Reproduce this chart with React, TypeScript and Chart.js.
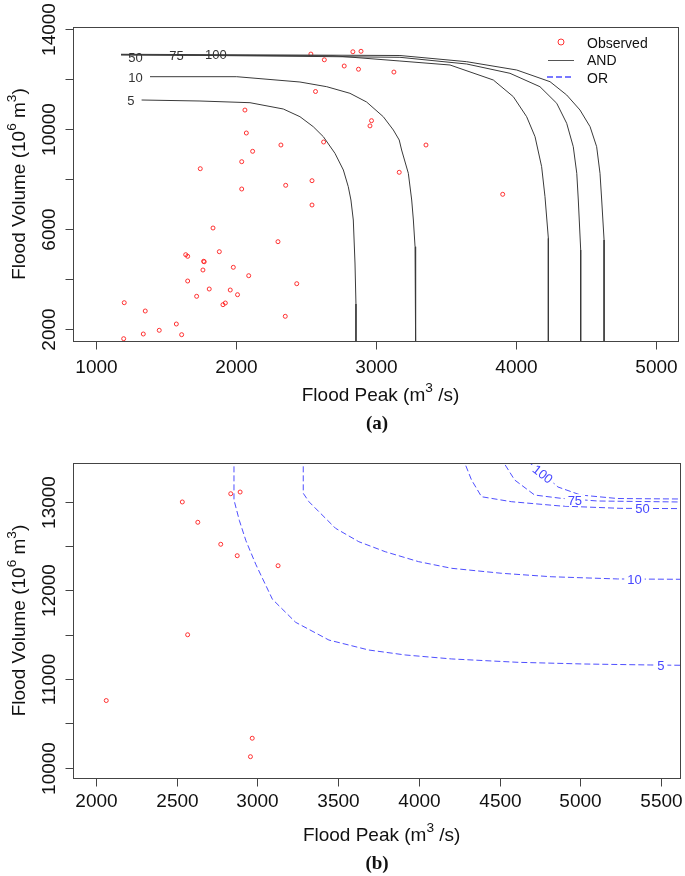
import { useEffect, useRef } from 'react';
import { Chart, registerables } from 'chart.js';
Chart.register(...registerables);

const SANS = '"Liberation Sans", Arial, Helvetica, sans-serif';
const SERIF = '"Liberation Serif", "Times New Roman", serif';

// Observed flood events: peak (m3/s) and volume (10^6 m3)
const obsPeak = [2535, 2631, 2773, 2568, 2064, 2074, 2321, 2626, 2119, 2041, 1745, 2355, 2543, 2041, 2835, 2893, 2875, 3128, 2968, 2957, 3357, 3166, 3905, 2543, 1836, 2300, 1881, 1641, 1655, 1769, 1773, 1981, 1764, 2091, 1655, 2434, 1809, 1959, 1719, 2011, 1202, 1924, 1907, 1352, 2352, 1574, 1452, 1338, 1612, 1198];
const obsVolume = [12997, 12768, 12520, 11500, 10758, 9840, 9360, 9480, 9108, 8692, 8412, 7748, 7932, 7600, 13090, 13109, 12391, 12278, 10333, 10125, 9360, 8268, 7388, 6960, 6040, 5492, 5092, 4972, 4908, 4708, 4690, 4468, 4360, 4132, 3920, 3812, 3600, 3560, 3308, 3372, 3052, 3040, 2972, 2720, 2508, 2200, 1948, 1800, 1772, 1612];

// "AND" joint return period contours (panel a)
const and5Peak = [1326, 1743, 2100, 2338, 2457, 2552, 2624, 2707, 2767, 2802, 2821, 2838, 2850, 2857, 2857];
const and5Vol = [11160, 11120, 11052, 10800, 10492, 10092, 9692, 9028, 8360, 7692, 7160, 6360, 4640, 3000, 1400];
const and10Peak = [1386, 2005, 2457, 2648, 2814, 2933, 3052, 3124, 3166, 3183, 3231, 3255, 3267, 3279, 3283];
const and10Vol = [12092, 12092, 11880, 11692, 11428, 11080, 10492, 9960, 9560, 9160, 8228, 7160, 6360, 5292, 1400];
const and50Peak = [1179, 2693, 3171, 3529, 3838, 3981, 4076, 4136, 4183, 4207, 4231, 4231];
const and50Vol = [12960, 12930, 12720, 12560, 11960, 11292, 10492, 9692, 8492, 7292, 5628, 1400];
const and75Peak = [1179, 3171, 3648, 3957, 4171, 4291, 4362, 4409, 4434, 4445, 4462, 4462];
const and75Vol = [12975, 12868, 12600, 12228, 11692, 11028, 10228, 9292, 8228, 7160, 5160, 1400];
const and100Peak = [1179, 3171, 3648, 4005, 4243, 4362, 4457, 4529, 4576, 4600, 4612, 4629, 4629];
const and100Vol = [12990, 12940, 12692, 12360, 11892, 11360, 10760, 10092, 9292, 8228, 7160, 5560, 1400];

// "OR" joint return period contours (panel b)
const or5Peak = [2855, 2855, 2888, 2929, 2991, 3093, 3237, 3443, 3689, 3915, 4203, 4614, 5025, 5436, 5650];
const or5Vol = [13500, 13020, 12790, 12560, 12290, 11900, 11640, 11440, 11328, 11272, 11227, 11189, 11170, 11159, 11155];
const or10Peak = [3284, 3284, 3319, 3381, 3484, 3628, 3792, 3998, 4203, 4511, 4819, 5230, 5650];
const or10Vol = [13500, 13095, 13000, 12887, 12700, 12549, 12436, 12324, 12249, 12193, 12154, 12129, 12125];
const or50Peak = [4270, 4326, 4388, 4573, 4881, 5251, 5650];
const or50Vol = [13500, 13245, 13056, 13000, 12951, 12925, 12922];
const or75Peak = [4505, 4593, 4717, 4881, 5107, 5650];
const or75Vol = [13500, 13245, 13075, 13038, 13008, 12996];
const or100Peak = [4640, 4768, 4861, 5002, 5230, 5650];
const or100Vol = [13500, 13324, 13166, 13075, 13036, 13030];

// Axis ticks
const aXTicks = [1000, 2000, 3000, 4000, 5000];
const aYTicks = [2000, 4000, 6000, 8000, 10000, 12000, 14000];
const aYLabels = [2000, 6000, 10000, 14000];
const bXTicks = [2000, 2500, 3000, 3500, 4000, 4500, 5000, 5500];
const bYTicks = [10000, 10500, 11000, 11500, 12000, 12500, 13000];
const bYLabels = [10000, 11000, 12000, 13000];

// Contour labels
const aLabelText = ['5', '10', '50', '75', '100'];
const aLabelPeak = [1250, 1282, 1282, 1575, 1857];
const aLabelVol = [11140, 12080, 12880, 12940, 12990];
const bLabelText = ['5', '10', '50', '75', '100'];
const bLabelPeak = [5498, 5335, 5385, 4966, 4768];
const bLabelVol = [11159, 12127, 12923, 13019, 13313];
const bLabelRot = [0, 0, 0, 0, 38];

const RED = 'rgba(255,30,30,0.9)';
const BLUE = 'rgba(60,60,255,0.9)';
const DARK = '#3a3a3a';

type Part = { t: string; sup?: boolean };
const xTitle: Part[] = [{ t: 'Flood Peak (m' }, { t: '3', sup: true }, { t: ' /s)' }];
const yTitle: Part[] = [{ t: 'Flood Volume (10' }, { t: '6', sup: true }, { t: ' m' }, { t: '3', sup: true }, { t: ')' }];

function pts(xs: number[], ys: number[]) {
  return xs.map((x, i) => ({ x, y: ys[i] }));
}

function drawParts(ctx: CanvasRenderingContext2D, parts: Part[], x: number, y: number, size: number) {
  const supSize = size * 0.72;
  let total = 0;
  const widths = parts.map((p) => {
    ctx.font = `${p.sup ? supSize : size}px ${SANS}`;
    const w = ctx.measureText(p.t).width;
    total += w;
    return w;
  });
  let cx = x - total / 2;
  ctx.textAlign = 'left';
  ctx.textBaseline = 'alphabetic';
  parts.forEach((p, i) => {
    ctx.font = `${p.sup ? supSize : size}px ${SANS}`;
    ctx.fillText(p.t, cx, p.sup ? y - size * 0.45 : y);
    cx += widths[i];
  });
}

type PanelCfg = {
  id: string;
  height: number;
  padding: { left: number; top: number; right: number; bottom: number };
  xMin: number; xMax: number; yMin: number; yMax: number;
  xTicks: number[]; yTicks: number[]; yLabels: number[];
  tickDy: number; titleDy: number; panelDy: number;
  panelLabel: string;
  labels: { text: string[]; x: number[]; y: number[]; rot: number[]; color: string; size: number; bg: boolean };
  legend: boolean;
  datasets: any[];
};

function makePlugin(cfg: PanelCfg) {
  return {
    id: 'rdecor_' + cfg.id,
    afterDraw(chart: any) {
      const ctx: CanvasRenderingContext2D = chart.ctx;
      const a = chart.chartArea;
      const xs = chart.scales.x;
      const ys = chart.scales.y;
      ctx.save();
      // contour labels
      const L = cfg.labels;
      L.text.forEach((t, i) => {
        const px = xs.getPixelForValue(L.x[i]);
        const py = ys.getPixelForValue(L.y[i]);
        ctx.save();
        ctx.translate(px, py);
        ctx.rotate((L.rot[i] * Math.PI) / 180);
        ctx.font = `${L.size}px ${SANS}`;
        const w = ctx.measureText(t).width;
        if (L.bg) {
          ctx.fillStyle = '#ffffff';
          ctx.fillRect(-w / 2 - 3, -L.size * 0.45, w + 6, L.size * 0.9);
        }
        ctx.fillStyle = L.color;
        ctx.textAlign = 'center';
        ctx.textBaseline = 'alphabetic';
        ctx.fillText(t, 0, L.size * 0.36);
        ctx.restore();
      });
      // box
      ctx.strokeStyle = '#444';
      ctx.lineWidth = 1;
      const l = Math.round(a.left) + 0.5;
      const tp = Math.round(a.top) + 0.5;
      const r = Math.round(a.right) + 0.5;
      const b = Math.round(a.bottom) + 0.5;
      ctx.strokeRect(l, tp, r - l, b - tp);
      // x ticks
      ctx.fillStyle = '#111';
      ctx.font = `19px ${SANS}`;
      ctx.textAlign = 'center';
      ctx.textBaseline = 'alphabetic';
      cfg.xTicks.forEach((v) => {
        const px = Math.round(xs.getPixelForValue(v)) + 0.5;
        ctx.beginPath();
        ctx.moveTo(px, b);
        ctx.lineTo(px, b + 8);
        ctx.stroke();
        ctx.fillText(String(v), px, a.bottom + cfg.tickDy);
      });
      // y ticks
      cfg.yTicks.forEach((v) => {
        const py = Math.round(ys.getPixelForValue(v)) + 0.5;
        ctx.beginPath();
        ctx.moveTo(l - 8, py);
        ctx.lineTo(l, py);
        ctx.stroke();
        if (cfg.yLabels.includes(v)) {
          ctx.save();
          ctx.translate(55, py);
          ctx.rotate(-Math.PI / 2);
          ctx.fillText(String(v), 0, 0);
          ctx.restore();
        }
      });
      // titles
      const cx = (a.left + a.right) / 2 + 5;
      drawParts(ctx, xTitle, cx, a.bottom + cfg.titleDy, 19);
      ctx.save();
      ctx.translate(25, (a.top + a.bottom) / 2);
      ctx.rotate(-Math.PI / 2);
      drawParts(ctx, yTitle, 0, 0, 19);
      ctx.restore();
      // panel label
      ctx.font = `bold 19px ${SERIF}`;
      ctx.textAlign = 'center';
      ctx.fillText(cfg.panelLabel, 377, a.bottom + cfg.panelDy);
      // legend
      if (cfg.legend) {
        ctx.strokeStyle = RED;
        ctx.lineWidth = 1;
        ctx.beginPath();
        ctx.arc(561, 42, 3, 0, Math.PI * 2);
        ctx.stroke();
        ctx.strokeStyle = '#555';
        ctx.beginPath();
        ctx.moveTo(548, 60.5);
        ctx.lineTo(574, 60.5);
        ctx.stroke();
        ctx.strokeStyle = 'rgb(120,120,255)';
        ctx.lineWidth = 2;
        ctx.setLineDash([6, 3]);
        ctx.beginPath();
        ctx.moveTo(547, 77);
        ctx.lineTo(574, 77);
        ctx.stroke();
        ctx.setLineDash([]);
        ctx.fillStyle = '#111';
        ctx.font = `14px ${SANS}`;
        ctx.textAlign = 'left';
        ctx.fillText('Observed', 587, 47.5);
        ctx.fillText('AND', 587, 65);
        ctx.fillText('OR', 587, 82.5);
      }
      ctx.restore();
    },
  };
}

function Panel({ cfg, top }: { cfg: PanelCfg; top: number }) {
  const ref = useRef<HTMLCanvasElement | null>(null);
  useEffect(() => {
    if (!ref.current) return;
    const chart = new Chart(ref.current, {
      type: 'scatter',
      data: { datasets: cfg.datasets },
      options: {
        responsive: false,
        animation: false,
        events: [],
        layout: { padding: cfg.padding },
        plugins: { legend: { display: false }, tooltip: { enabled: false }, title: { display: false } },
        scales: {
          x: { type: 'linear', display: false, min: cfg.xMin, max: cfg.xMax },
          y: { type: 'linear', display: false, min: cfg.yMin, max: cfg.yMax },
        },
      },
      plugins: [makePlugin(cfg)],
    } as any);
    return () => chart.destroy();
  }, [cfg]);
  return (
    <canvas
      ref={ref}
      width={685}
      height={cfg.height}
      style={{ position: 'absolute', left: 0, top, width: 685, height: cfg.height, display: 'block' }}
    />
  );
}

const observedDs = (clip: number | undefined) => ({
  label: 'Observed',
  data: pts(obsPeak, obsVolume),
  pointRadius: 2,
  pointBorderWidth: 1,
  pointBorderColor: RED,
  pointBackgroundColor: 'rgba(0,0,0,0)',
  showLine: false,
  clip,
});

const lineDs = (xs: number[], ys: number[], color: string, dash: number[]) => ({
  label: 'c',
  data: pts(xs, ys),
  showLine: true,
  pointRadius: 0,
  borderColor: color,
  borderWidth: 1,
  borderDash: dash,
  tension: 0,
  fill: false,
});

const cfgA: PanelCfg = {
  id: 'a',
  height: 440,
  padding: { left: 73, top: 27, right: 7, bottom: 99 },
  xMin: 836, xMax: 5157, yMin: 1520, yMax: 14080,
  xTicks: aXTicks, yTicks: aYTicks, yLabels: aYLabels,
  tickDy: 32, titleDy: 60, panelDy: 88,
  panelLabel: '(a)',
  labels: { text: aLabelText, x: aLabelPeak, y: aLabelVol, rot: [0, 0, 0, 0, 0], color: '#333', size: 13, bg: false },
  legend: true,
  datasets: [
    lineDs(and5Peak, and5Vol, DARK, []),
    lineDs(and10Peak, and10Vol, DARK, []),
    lineDs(and50Peak, and50Vol, DARK, []),
    lineDs(and75Peak, and75Vol, DARK, []),
    lineDs(and100Peak, and100Vol, DARK, []),
    observedDs(undefined),
  ],
};

const cfgB: PanelCfg = {
  id: 'b',
  height: 436,
  padding: { left: 73.3, top: 23.3, right: 2.3, bottom: 98.3 },
  xMin: 1860, xMax: 5617, yMin: 9888, yMax: 13433,
  xTicks: bXTicks, yTicks: bYTicks, yLabels: bYLabels,
  tickDy: 29.5, titleDy: 63, panelDy: 91,
  panelLabel: '(b)',
  labels: { text: bLabelText, x: bLabelPeak, y: bLabelVol, rot: bLabelRot, color: 'rgb(70,70,255)', size: 13, bg: true },
  legend: false,
  datasets: [
    lineDs(or5Peak, or5Vol, BLUE, [6, 3]),
    lineDs(or10Peak, or10Vol, BLUE, [6, 3]),
    lineDs(or50Peak, or50Vol, BLUE, [6, 3]),
    lineDs(or75Peak, or75Vol, BLUE, [6, 3]),
    lineDs(or100Peak, or100Vol, BLUE, [6, 3]),
    observedDs(0),
  ],
};

export default function App() {
  useEffect(() => {
    document.body.style.margin = '0';
  }, []);
  return (
    <div style={{ position: 'relative', width: 685, height: 876, background: '#fff', overflow: 'hidden' }}>
      <Panel cfg={cfgA} top={0} />
      <Panel cfg={cfgB} top={440} />
    </div>
  );
}
